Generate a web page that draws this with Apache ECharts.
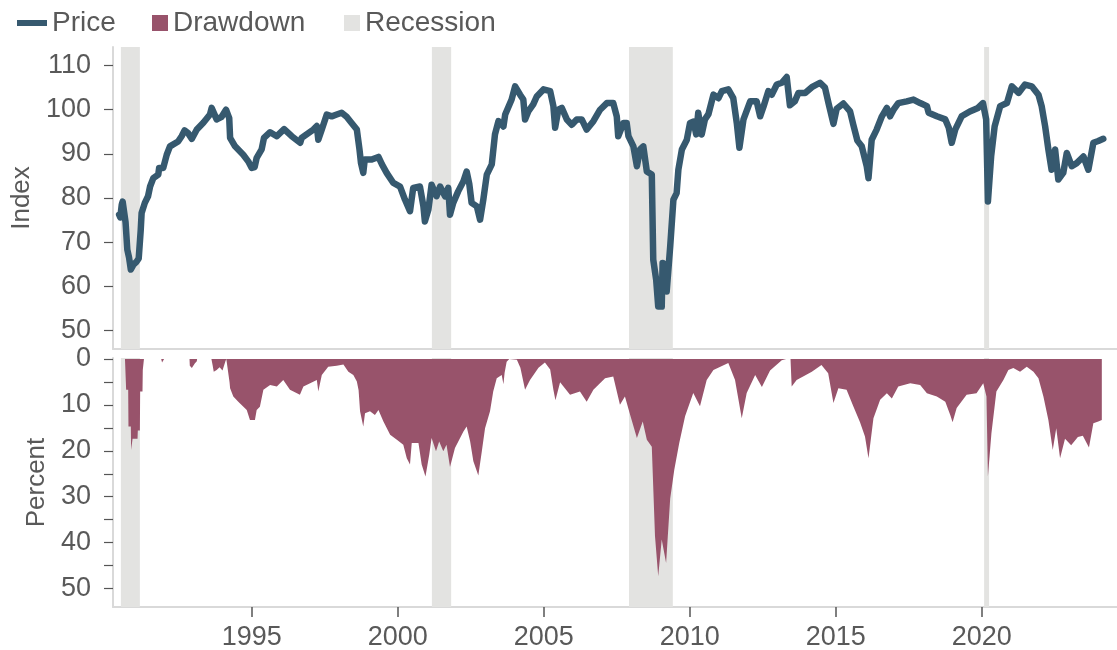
<!DOCTYPE html>
<html>
<head>
<meta charset="utf-8">
<title>Price and drawdown</title>
<script src="https://cdn.jsdelivr.net/npm/echarts@6/dist/echarts.min.js"></script>
<style>
  html, body { margin: 0; padding: 0; background: #ffffff; }
  #chart { width: 1117px; height: 650px; }
</style>
</head>
<body>
<div id="chart"></div>
<script>
// Index level: [decimal year, value]
const priceSeries = [
  [1990.46, 76.2], [1990.50, 75.6], [1990.55, 78.5], [1990.58, 79.2], [1990.63, 78.8],
  [1990.68, 74.5], [1990.74, 68.3], [1990.80, 66.5], [1990.86, 63.8], [1990.95, 64.9],
  [1991.06, 65.6], [1991.13, 66.3], [1991.20, 72.8], [1991.23, 76.6], [1991.34, 78.9],
  [1991.45, 80.4], [1991.52, 82.6], [1991.63, 84.5], [1991.80, 85.3], [1991.83, 86.8],
  [1991.97, 86.8], [1992.03, 86.4], [1992.09, 89.8], [1992.20, 91.7], [1992.48, 92.8],
  [1992.60, 94.0], [1992.70, 95.3], [1992.82, 94.7], [1992.95, 93.4], [1993.12, 95.5],
  [1993.35, 97.1], [1993.57, 98.9], [1993.63, 100.4], [1993.72, 99.0], [1993.80, 97.8],
  [1993.97, 98.4], [1994.12, 100.0], [1994.23, 98.1], [1994.26, 93.6], [1994.43, 91.7],
  [1994.71, 89.8], [1994.88, 88.3], [1995.00, 86.8], [1995.10, 87.0], [1995.17, 89.1],
  [1995.34, 91.0], [1995.42, 93.6], [1995.63, 94.9], [1995.86, 94.0], [1996.11, 95.6],
  [1996.37, 94.0], [1996.66, 92.5], [1996.71, 93.6], [1996.94, 94.7], [1997.11, 95.5],
  [1997.23, 96.3], [1997.28, 93.2], [1997.40, 95.5], [1997.57, 98.9], [1997.74, 98.5],
  [1997.91, 98.9], [1998.08, 99.3], [1998.25, 98.4], [1998.42, 97.0], [1998.60, 95.5],
  [1998.69, 91.0], [1998.74, 88.0], [1998.82, 85.7], [1998.87, 88.7], [1999.11, 88.7],
  [1999.34, 89.3], [1999.46, 87.6], [1999.62, 85.7], [1999.85, 83.4], [2000.08, 82.6],
  [2000.25, 79.6], [2000.42, 77.0], [2000.53, 82.3], [2000.76, 82.6], [2000.88, 78.1],
  [2000.93, 74.7], [2001.05, 77.4], [2001.16, 83.0], [2001.33, 80.4], [2001.45, 82.6],
  [2001.62, 80.4], [2001.73, 82.3], [2001.79, 76.2], [2001.90, 78.9], [2002.07, 81.5],
  [2002.25, 83.8], [2002.36, 86.0], [2002.45, 83.2], [2002.53, 78.9], [2002.71, 78.1],
  [2002.82, 75.1], [2002.93, 79.6], [2003.05, 85.3], [2003.22, 87.6], [2003.33, 94.4],
  [2003.45, 97.4], [2003.62, 96.2], [2003.68, 98.9], [2003.90, 102.3], [2004.02, 105.3],
  [2004.19, 103.4], [2004.30, 102.3], [2004.36, 97.8], [2004.47, 99.6], [2004.64, 101.2],
  [2004.76, 103.0], [2004.99, 104.6], [2005.22, 104.2], [2005.33, 100.8], [2005.39, 95.9],
  [2005.50, 100.0], [2005.62, 100.4], [2005.79, 97.8], [2005.96, 96.6], [2006.13, 97.8],
  [2006.30, 97.8], [2006.47, 95.5], [2006.70, 97.4], [2006.93, 100.0], [2007.16, 101.5],
  [2007.38, 101.5], [2007.50, 98.5], [2007.55, 94.0], [2007.73, 97.0], [2007.84, 97.0],
  [2007.90, 94.0], [2008.07, 91.7], [2008.19, 87.2], [2008.30, 91.0], [2008.41, 91.7],
  [2008.53, 86.0], [2008.70, 85.3], [2008.75, 66.0], [2008.85, 61.5], [2008.92, 55.4],
  [2009.04, 55.4], [2009.07, 65.3], [2009.15, 65.0], [2009.21, 58.8], [2009.33, 69.0],
  [2009.44, 79.6], [2009.55, 81.1], [2009.61, 86.4], [2009.73, 91.0], [2009.90, 93.2],
  [2010.01, 97.0], [2010.13, 97.3], [2010.22, 94.4], [2010.29, 99.3], [2010.41, 94.4],
  [2010.52, 97.8], [2010.64, 99.0], [2010.81, 103.4], [2010.98, 102.6], [2011.10, 104.2],
  [2011.32, 104.6], [2011.49, 102.6], [2011.61, 97.0], [2011.70, 91.4], [2011.84, 97.8],
  [2012.07, 101.9], [2012.29, 101.9], [2012.41, 98.5], [2012.53, 100.8], [2012.69, 104.2],
  [2012.81, 103.4], [2012.98, 105.7], [2013.15, 106.1], [2013.32, 107.4], [2013.43, 101.0],
  [2013.60, 101.9], [2013.72, 103.8], [2013.95, 103.8], [2014.18, 105.1], [2014.46, 106.1],
  [2014.63, 105.0], [2014.75, 101.5], [2014.92, 96.8], [2015.03, 100.2], [2015.26, 101.4],
  [2015.49, 99.6], [2015.60, 96.6], [2015.74, 93.0], [2015.89, 91.7], [2016.06, 87.2],
  [2016.12, 84.5], [2016.23, 93.2], [2016.40, 95.5], [2016.58, 98.5], [2016.75, 100.4],
  [2016.86, 98.5], [2016.98, 100.0], [2017.14, 101.5], [2017.43, 101.9], [2017.66, 102.3],
  [2017.89, 101.5], [2018.12, 100.8], [2018.18, 99.3], [2018.46, 98.5], [2018.75, 97.8],
  [2018.87, 95.9], [2018.97, 92.5], [2019.09, 95.5], [2019.31, 98.5], [2019.59, 99.6],
  [2019.87, 100.4], [2020.04, 101.5], [2020.15, 97.8], [2020.21, 79.2], [2020.32, 89.4],
  [2020.44, 96.2], [2020.63, 100.8], [2020.86, 101.5], [2021.03, 105.3], [2021.26, 103.8],
  [2021.48, 105.7], [2021.71, 105.3], [2021.94, 103.4], [2022.05, 100.8], [2022.17, 96.2],
  [2022.28, 91.0], [2022.39, 86.4], [2022.51, 91.0], [2022.62, 84.2], [2022.79, 85.7],
  [2022.91, 90.2], [2023.08, 87.2], [2023.25, 87.9], [2023.48, 89.4], [2023.65, 86.4],
  [2023.82, 92.5], [2023.99, 92.9], [2024.16, 93.4]
];

// Percent below the running peak: [decimal year, percent]
const drawdownSeries = [
  [1990.46, 0], [1990.66, 0], [1990.70, 6.7], [1990.77, 6.7], [1990.78, 14.7],
  [1990.86, 14.7], [1990.87, 19.8], [1990.91, 19.8], [1990.92, 17.4], [1991.09, 17.4],
  [1991.10, 15.6], [1991.17, 15.6], [1991.18, 7.1], [1991.26, 7.1], [1991.27, 2.4],
  [1991.30, 2.4], [1991.31, 0], [1991.90, 0], [1991.93, 0.8], [1991.98, 0.8],
  [1992.00, 0], [1992.87, 0], [1992.88, 1.5], [1992.95, 2.0], [1993.05, 1.0],
  [1993.12, 0.5], [1993.13, 0], [1993.62, 0], [1993.66, 1.3], [1993.70, 2.8],
  [1993.80, 2.4], [1993.90, 1.8], [1994.00, 2.5], [1994.10, 0.5], [1994.13, 0],
  [1994.17, 0], [1994.24, 5.0], [1994.26, 6.4], [1994.37, 8.2], [1994.54, 9.3],
  [1994.83, 11.1], [1994.94, 13.3], [1995.11, 13.3], [1995.17, 11.1], [1995.28, 10.4],
  [1995.40, 6.7], [1995.63, 5.7], [1995.86, 6.0], [1996.08, 4.6], [1996.31, 6.7],
  [1996.65, 7.8], [1996.77, 6.0], [1997.00, 5.3], [1997.23, 4.6], [1997.28, 7.1],
  [1997.40, 3.5], [1997.62, 1.7], [1997.91, 1.5], [1998.14, 1.2], [1998.31, 2.8],
  [1998.48, 3.5], [1998.60, 4.9], [1998.66, 6.8], [1998.71, 11.4], [1998.82, 14.7],
  [1998.88, 11.8], [1999.05, 11.4], [1999.22, 12.2], [1999.34, 11.1], [1999.51, 13.6],
  [1999.74, 16.5], [1999.97, 17.6], [2000.19, 18.7], [2000.31, 21.6], [2000.42, 23.0],
  [2000.48, 18.3], [2000.71, 18.3], [2000.82, 23.0], [2000.95, 25.6], [2001.08, 20.8],
  [2001.16, 17.2], [2001.31, 20.1], [2001.42, 18.0], [2001.56, 20.1], [2001.67, 18.7],
  [2001.79, 23.5], [2001.96, 19.4], [2002.25, 15.8], [2002.36, 14.7], [2002.48, 18.0],
  [2002.59, 22.3], [2002.76, 25.4], [2002.88, 20.1], [2002.99, 15.1], [2003.16, 11.4],
  [2003.27, 7.1], [2003.39, 4.2], [2003.56, 3.5], [2003.62, 5.5], [2003.66, 3.0],
  [2003.73, 0.6], [2003.82, 0], [2004.08, 0.2], [2004.20, 1.9], [2004.36, 6.7],
  [2004.53, 4.6], [2004.82, 1.9], [2005.04, 0.8], [2005.22, 2.3], [2005.33, 6.7],
  [2005.40, 9.0], [2005.56, 5.1], [2005.90, 7.8], [2006.24, 7.1], [2006.47, 9.3],
  [2006.70, 6.7], [2007.10, 4.2], [2007.38, 3.8], [2007.61, 10.0], [2007.78, 8.2],
  [2007.96, 12.2], [2008.19, 17.2], [2008.39, 13.6], [2008.53, 17.6], [2008.70, 19.1],
  [2008.81, 38.6], [2008.92, 47.3], [2009.04, 39.3], [2009.19, 44.4], [2009.33, 30.4],
  [2009.47, 24.1], [2009.64, 18.3], [2009.84, 12.5], [2010.12, 7.4], [2010.35, 10.3],
  [2010.58, 4.6], [2010.81, 2.4], [2011.32, 0.9], [2011.55, 4.6], [2011.78, 12.9],
  [2011.95, 7.4], [2012.24, 3.5], [2012.47, 6.1], [2012.75, 2.5], [2013.15, 0.3],
  [2013.30, 0], [2013.45, 0], [2013.49, 6.0], [2013.66, 4.6], [2014.18, 2.8],
  [2014.51, 1.3], [2014.74, 3.1], [2014.92, 9.6], [2015.09, 6.4], [2015.37, 6.7],
  [2015.60, 10.3], [2015.83, 13.8], [2016.00, 16.9], [2016.12, 21.6], [2016.29, 12.9],
  [2016.52, 8.9], [2016.75, 7.5], [2016.92, 8.6], [2017.14, 6.0], [2017.55, 5.3],
  [2017.89, 5.7], [2018.12, 7.5], [2018.46, 8.2], [2018.75, 9.3], [2018.92, 12.2],
  [2019.00, 13.8], [2019.14, 10.7], [2019.48, 7.8], [2019.82, 7.5], [2020.05, 5.3],
  [2020.16, 8.2], [2020.21, 25.6], [2020.33, 16.2], [2020.50, 7.1], [2020.74, 4.6],
  [2020.91, 2.4], [2021.08, 2.0], [2021.31, 2.8], [2021.54, 1.7], [2021.77, 2.8],
  [2021.94, 4.2], [2022.11, 8.2], [2022.28, 13.3], [2022.43, 19.8], [2022.55, 15.1],
  [2022.68, 21.6], [2022.85, 17.4], [2023.06, 18.8], [2023.29, 17.0], [2023.46, 16.7],
  [2023.67, 19.3], [2023.82, 14.0], [2023.99, 13.6], [2024.11, 13.3]
];

// Recession periods (decimal years)
const recessionStarts = [1990.52, 2001.17, 2007.92, 2020.08];
const recessionEnds   = [1991.17, 2001.83, 2009.42, 2020.25];

// Axis ticks
const yearTicks = [1995, 2000, 2005, 2010, 2015, 2020];
const indexTicks = [50, 60, 70, 80, 90, 100, 110];
const percentLabels = [0, 10, 20, 30, 40, 50];
const percentTicks = [0, 5, 10, 15, 20, 25, 30, 35, 40, 45, 50];

const COLORS = {
  price: '#36596f',
  drawdown: '#98536b',
  recession: '#e3e3e1',
  text: '#595959',
  axis: '#d9d9d9',
  tick: '#555555'
};
const FONT = '"Liberation Sans", Arial, sans-serif';

const recessionAreas = recessionStarts.map((s, i) => [{ xAxis: s }, { xAxis: recessionEnds[i] }]);

const chart = echarts.init(document.getElementById('chart'), null, { renderer: 'canvas' });

const xBase = {
  type: 'value',
  min: 1990.25,
  max: 2024.63,
  splitLine: { show: false },
  axisLine: { show: true, onZero: false, lineStyle: { color: COLORS.axis, width: 2 } }
};

const legendBase = {
  top: 4,
  orient: 'horizontal',
  textStyle: { fontSize: 28, color: COLORS.text, fontFamily: FONT },
  selectedMode: false
};

const labelStyle = { fontSize: 27, color: COLORS.text, fontFamily: FONT };

chart.setOption({
  animation: false,
  backgroundColor: '#ffffff',
  textStyle: { fontFamily: FONT },
  legend: [
    Object.assign({}, legendBase, { left: 12, itemWidth: 30, itemHeight: 6,
      data: [{ name: 'Price', icon: 'rect' }] }),
    Object.assign({}, legendBase, { left: 147, itemWidth: 16, itemHeight: 16,
      data: [{ name: 'Drawdown', icon: 'rect' }] }),
    Object.assign({}, legendBase, { left: 339, itemWidth: 16, itemHeight: 16,
      data: [{ name: 'Recession', icon: 'rect' }] })
  ],
  grid: [
    { left: 113, right: 0, top: 47, height: 302, outerBoundsMode: 'none' },
    { left: 113, right: 0, top: 358, height: 249, outerBoundsMode: 'none' }
  ],
  xAxis: [
    Object.assign({}, xBase, {
      gridIndex: 0,
      axisTick: { show: false },
      axisLabel: { show: false }
    }),
    Object.assign({}, xBase, {
      gridIndex: 1,
      axisTick: { show: true, customValues: yearTicks, length: 10,
        lineStyle: { color: COLORS.tick, width: 1.5 } },
      axisLabel: Object.assign({ show: true, customValues: yearTicks, margin: 17,
        formatter: v => String(Math.round(v)) }, labelStyle)
    })
  ],
  yAxis: [
    {
      type: 'value', gridIndex: 0, min: 45.8, max: 114.2,
      name: 'Index', nameLocation: 'middle', nameGap: 76,
      nameTextStyle: { fontSize: 26, color: COLORS.text, fontFamily: FONT },
      splitLine: { show: false },
      axisLine: { show: true, lineStyle: { color: COLORS.axis, width: 2 } },
      axisTick: { show: true, customValues: indexTicks, length: 9,
        lineStyle: { color: COLORS.tick, width: 1.2 } },
      axisLabel: Object.assign({ customValues: indexTicks, margin: 22 }, labelStyle)
    },
    {
      type: 'value', gridIndex: 1, min: -0.2, max: 54, inverse: true,
      name: 'Percent', nameLocation: 'middle', nameGap: 59,
      nameTextStyle: { fontSize: 26, color: COLORS.text, fontFamily: FONT },
      splitLine: { show: false },
      axisLine: { show: true, lineStyle: { color: COLORS.axis, width: 2 } },
      axisTick: { show: true, customValues: percentTicks, length: 9,
        lineStyle: { color: COLORS.tick, width: 1.2 } },
      axisLabel: Object.assign({ customValues: percentLabels, margin: 22 }, labelStyle)
    }
  ],
  series: [
    {
      name: 'Recession', type: 'line', xAxisIndex: 0, yAxisIndex: 0, z: 1,
      data: [], itemStyle: { color: COLORS.recession },
      markArea: { silent: true, itemStyle: { color: COLORS.recession, opacity: 1 },
        data: recessionAreas }
    },
    {
      name: 'Recession', type: 'line', xAxisIndex: 1, yAxisIndex: 1, z: 1,
      data: [], itemStyle: { color: COLORS.recession },
      markArea: { silent: true, itemStyle: { color: COLORS.recession, opacity: 1 },
        data: recessionAreas }
    },
    {
      name: 'Price', type: 'line', xAxisIndex: 0, yAxisIndex: 0, z: 3,
      data: priceSeries,
      showSymbol: false, symbol: 'none',
      itemStyle: { color: COLORS.price },
      lineStyle: { color: COLORS.price, width: 6.5, cap: 'round', join: 'round' }
    },
    {
      name: 'Drawdown', type: 'line', xAxisIndex: 1, yAxisIndex: 1, z: 3,
      data: drawdownSeries,
      showSymbol: false, symbol: 'none',
      itemStyle: { color: COLORS.drawdown },
      lineStyle: { width: 0 },
      areaStyle: { color: COLORS.drawdown, opacity: 1 }
    }
  ]
});
</script>
</body>
</html>
